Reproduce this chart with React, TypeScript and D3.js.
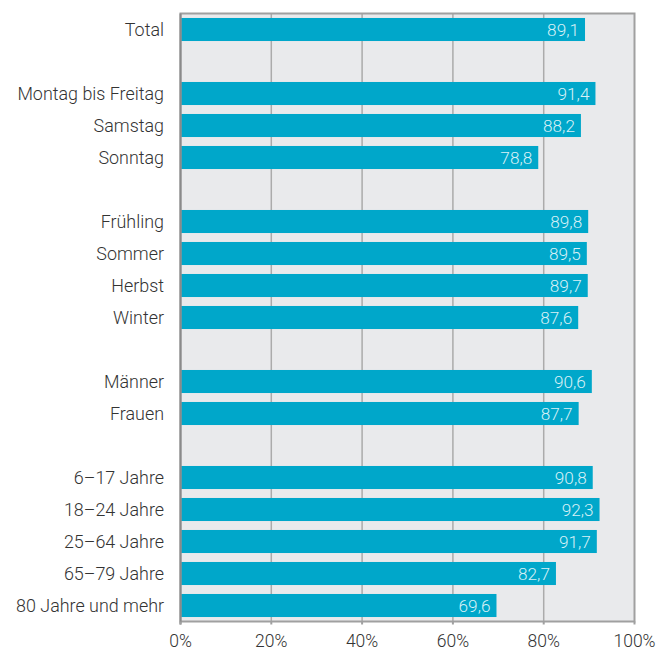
import React from "react";
import * as d3 from "d3";

const categories = [
  "Total", "", "Montag bis Freitag", "Samstag", "Sonntag", " ",
  "Frühling", "Sommer", "Herbst", "Winter", "  ",
  "Männer", "Frauen", "   ",
  "6–17 Jahre", "18–24 Jahre", "25–64 Jahre", "65–79 Jahre", "80 Jahre und mehr",
];
const values: (number | null)[] = [
  89.1, null, 91.4, 88.2, 78.8, null,
  89.8, 89.5, 89.7, 87.6, null,
  90.6, 87.7, null,
  90.8, 92.3, 91.7, 82.7, 69.6,
];
const xTicks = [0, 20, 40, 60, 80, 100];

const W = 672, H = 650;
const left = 180.5, right = 634.5, top = 13.5, bottom = 621.5;
const font = "Roboto, 'Noto Sans', sans-serif";

export default function App() {
  const x = d3.scaleLinear().domain([0, 100]).range([left, right]);
  const y = d3.scaleBand<string>().domain(categories).range([top, bottom]).paddingInner(0.28).paddingOuter(0.14);
  const fmt = (v: number) => v.toFixed(1).replace(".", ",");
  return (
    <svg width={W} height={H} style={{ position: "absolute", left: 0, top: 0 }}>
      <rect x={left} y={top} width={right - left} height={bottom - top} fill="#e9eaec" />
      {xTicks.slice(1, -1).map((t) => (
        <line key={t} x1={x(t)} x2={x(t)} y1={top} y2={bottom} stroke="#ababab" strokeWidth={1.5} />
      ))}
      {categories.map((c, i) => {
        const v = values[i];
        if (v == null) return null;
        const yy = y(c)!;
        return (
          <g key={c}>
            <rect x={left} y={yy} width={x(v) - left} height={y.bandwidth()} fill="#00a7ca" />
            <text x={x(v) - 6} y={yy + y.bandwidth() / 2} dy="0.35em" textAnchor="end" fill="#d8f1f7"
              fontFamily={font} fontWeight={300} fontSize={17.2}>{fmt(v)}</text>
            <text x={164} y={yy + y.bandwidth() / 2} dy="0.35em" textAnchor="end" fill="#333"
              fontFamily={font} fontWeight={300} fontSize={17.9}>{c}</text>
          </g>
        );
      })}
      <rect x={left} y={top} width={right - left} height={bottom - top} fill="none" stroke="#a0a0a0" strokeWidth={2} />
      <line x1={left} x2={left} y1={top} y2={bottom + 3} stroke="#8a8a8a" strokeWidth={2} />
      {xTicks.map((t) => (
        <g key={t}>
          <line x1={x(t)} x2={x(t)} y1={bottom} y2={bottom + 3} stroke="#a0a0a0" strokeWidth={2} />
          <text x={x(t)} y={641} dy="0.35em" textAnchor="middle" fill="#333"
            fontFamily={font} fontWeight={300} fontSize={17.5}>{t}%</text>
        </g>
      ))}
    </svg>
  );
}
